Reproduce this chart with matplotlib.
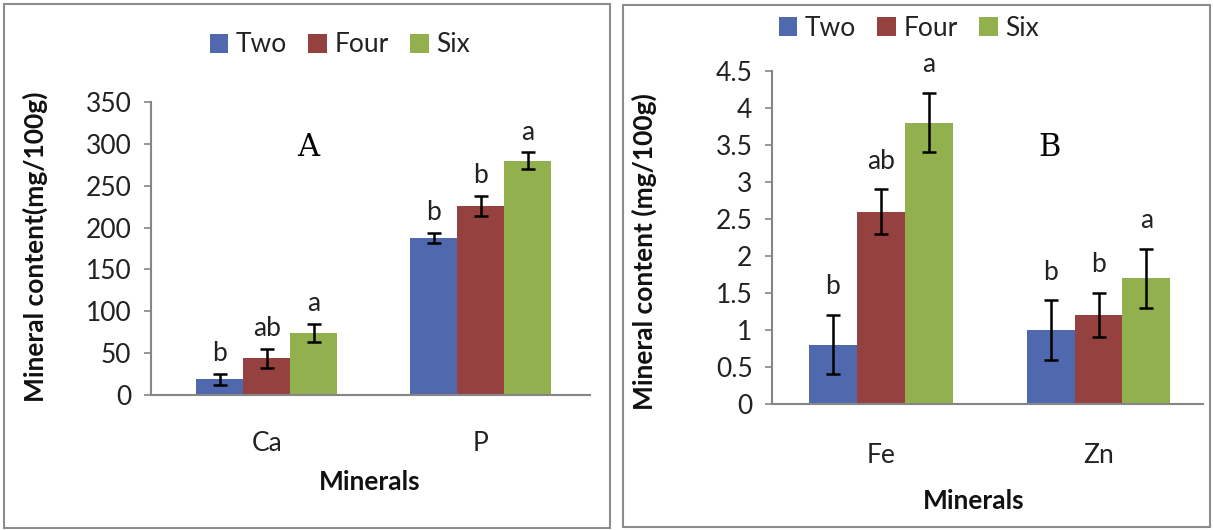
import matplotlib
matplotlib.use("Agg")
import matplotlib.pyplot as plt
from matplotlib.patches import Rectangle
import numpy as np

plt.rcParams['font.family'] = ['Lato', 'DejaVu Sans']

# datos
series = ['Two', 'Four', 'Six']
colores = ['#5068ad', '#944140', '#93b04f']

minerales_a = ['Ca', 'P']
valores_a = [[19, 188], [44, 226], [74, 280]]
errores_a = [[6.5, 6], [11.5, 12], [11, 10]]
letras_a = [['b', 'b'], ['ab', 'b'], ['a', 'a']]

minerales_b = ['Fe', 'Zn']
valores_b = [[0.8, 1.0], [2.6, 1.2], [3.8, 1.7]]
errores_b = [[0.4, 0.4], [0.3, 0.3], [0.4, 0.4]]
letras_b = [['b', 'b'], ['ab', 'b'], ['a', 'a']]

W, H = 1213, 530
FS = 19
fig = plt.figure(figsize=(W / 100, H / 100), dpi=100)


def px(x0, y0, x1, y1):
    # caja en pixeles -> fraccion de figura
    return [x0 / W, 1 - y1 / H, (x1 - x0) / W, (y1 - y0) / H]


def panel(rect, cats, vals, errs, letras, ymax, ystep, xlim, ylabel, ylabel_xy,
          letra, letra_xy, leg_y, leg_x, xlabel_xy, cat_pad, gap):
    ax = fig.add_axes(rect)
    x = np.arange(len(cats))
    ancho = 0.22
    for i, s in enumerate(series):
        pos = x + (i - 1) * ancho
        ax.bar(pos, vals[i], ancho, color=colores[i], label=s, zorder=2)
        ax.errorbar(pos, vals[i], yerr=errs[i], fmt='none', ecolor='black',
                    elinewidth=1.8, capsize=5, capthick=1.8, zorder=3)
        for p, v, e, l in zip(pos, vals[i], errs[i], letras[i]):
            ax.annotate(l, (p, v + e), xytext=(0, gap), textcoords='offset points',
                        ha='center', va='baseline', fontsize=FS, color='#222222')
    ax.set_xlim(*xlim)
    ax.set_ylim(0, ymax)
    ticks = np.arange(0, ymax + ystep / 2, ystep)
    ax.set_yticks(ticks)
    ax.set_yticklabels([('%g' % t) for t in ticks])
    ax.set_xticks(x)
    ax.set_xticklabels(cats)
    ax.tick_params(axis='x', length=0, pad=cat_pad, labelsize=FS, labelcolor='#222222')
    ax.tick_params(axis='y', length=5, color='#868686', width=1.2, labelsize=FS,
                   pad=9, labelcolor='#222222')
    for sp in ['top', 'right']:
        ax.spines[sp].set_visible(False)
    for sp in ['left', 'bottom']:
        ax.spines[sp].set_color('#868686')
        ax.spines[sp].set_linewidth(1.5)
    ax.set_ylabel(ylabel, fontsize=FS, fontweight='bold', color='#111111')
    ax.yaxis.set_label_coords(ylabel_xy[0] / W, 1 - ylabel_xy[1] / H,
                              transform=fig.transFigure)
    ax.set_xlabel('Minerals', fontsize=FS, fontweight='bold', color='#111111')
    ax.xaxis.set_label_coords(xlabel_xy[0] / W, 1 - xlabel_xy[1] / H,
                              transform=fig.transFigure)
    fig.text(letra_xy[0] / W, 1 - letra_xy[1] / H, letra, fontsize=22,
             family='DejaVu Serif', ha='center', va='center')
    ax.legend(loc='center', bbox_to_anchor=(leg_x / W, 1 - leg_y / H),
              bbox_transform=fig.transFigure, ncol=3, frameon=False, fontsize=FS,
              handlelength=0.7, handleheight=0.7, handletextpad=0.3,
              columnspacing=0.8, labelcolor='#222222')
    return ax


panel(px(151, 102, 590, 395), minerales_a, valores_a, errores_a, letras_a,
      350, 50, (-0.54, 1.51), 'Mineral content(mg/100g)', (48, 247),
      'A', (308, 148), 45, 340, (370, 470), 26, 9)

panel(px(772, 71, 1203, 404), minerales_b, valores_b, errores_b, letras_b,
      4.5, 0.5, (-0.5, 1.48), 'Mineral content (mg/100g)', (657, 252),
      'B', (1050, 148), 28, 909, (974, 489), 28, 15)

# marcos de cada panel
for x0, y0, x1, y1 in [(4, 4, 610, 528), (623, 5, 1210, 527)]:
    fig.add_artist(Rectangle((x0 / W, 1 - y1 / H), (x1 - x0) / W, (y1 - y0) / H,
                             transform=fig.transFigure, fill=False,
                             edgecolor='#8c8c8c', linewidth=1.5))

fig.savefig('out.png', dpi=100)
